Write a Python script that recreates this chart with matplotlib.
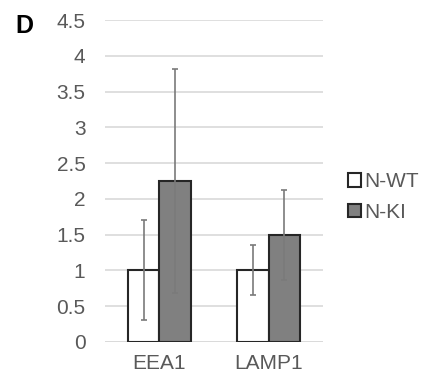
import matplotlib
matplotlib.use("Agg")
import matplotlib.pyplot as plt
import numpy as np

plt.rcParams['font.family'] = ['Liberation Sans', 'DejaVu Sans']

categories = ["EEA1", "LAMP1"]
series = ["N-WT", "N-KI"]
wt_vals = [1.0, 1.0]
wt_err = [0.70, 0.35]
ki_vals = [2.25, 1.50]
ki_err = [1.57, 0.63]
yticks = [0, 0.5, 1, 1.5, 2, 2.5, 3, 3.5, 4, 4.5]
ytick_labels = ["0", "0.5", "1", "1.5", "2", "2.5", "3", "3.5", "4", "4.5"]

fig = plt.figure(figsize=(4.28, 3.85), dpi=100)
ax = fig.add_axes([0.245, 0.112, 0.510, 0.836])

x = np.arange(len(categories))
w = 0.29
errkw = dict(ecolor="#7a7a7a", elinewidth=1.2, capsize=2.5, capthick=1.2)
ax.bar(x - w/2, wt_vals, w, yerr=wt_err, color="white", edgecolor="#262626",
       linewidth=1.5, label=series[0], error_kw=errkw, zorder=3)
ax.bar(x + w/2, ki_vals, w, yerr=ki_err, color="#808080", edgecolor="#262626",
       linewidth=1.5, label=series[1], error_kw=errkw, zorder=3)

ax.set_xlim(-0.5, 1.5)
ax.set_ylim(0, 4.5)
ax.set_yticks(yticks)
ax.set_yticklabels(ytick_labels)
ax.set_xticks(x)
ax.set_xticklabels(categories)
ax.yaxis.grid(True, color="#d9d9d9", linewidth=1.2, zorder=0)
ax.set_axisbelow(True)
for s in ax.spines.values():
    s.set_visible(False)
ax.axhline(0, color="#d9d9d9", linewidth=1.2, zorder=1)
ax.tick_params(axis="y", length=0, pad=14, labelsize=15, labelcolor="#595959")
ax.tick_params(axis="x", length=0, pad=9, labelsize=15, labelcolor="#595959")

fig.text(0.035, 0.915, "D", fontsize=18, fontweight="bold", color="black")

leg = ax.legend(loc="center left", bbox_to_anchor=(1.03, 0.45), frameon=False,
                fontsize=15, handlelength=0.6, handleheight=0.6, handletextpad=0.15,
                labelspacing=0.55, labelcolor="#595959")

fig.savefig("out.png", dpi=100)
